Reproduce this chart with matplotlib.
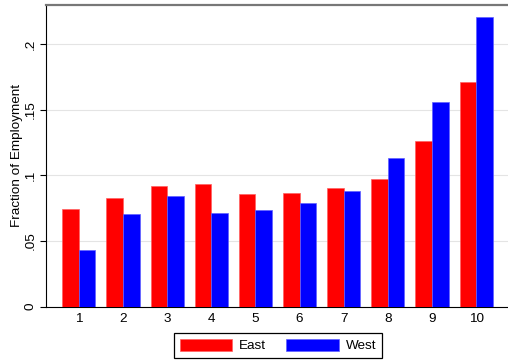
import numpy as np
from matplotlib import pyplot as plt

plt.rcParams['font.family'] = ['Liberation Sans', 'DejaVu Sans']

deciles = np.arange(1, 11)
east = [0.0745, 0.083, 0.092, 0.0936, 0.086, 0.0867, 0.0905, 0.0974, 0.1259, 0.1714]
west = [0.0432, 0.0707, 0.0844, 0.0715, 0.0738, 0.079, 0.0883, 0.1134, 0.1556, 0.2204]
yticks = [0, 0.05, 0.1, 0.15, 0.2]
ytick_labels = ['0', '.05', '.1', '.15', '.2']

fs = 9.7

fig = plt.figure(figsize=(5.08, 3.62), dpi=100)
ax = fig.add_axes([0.09, 0.1528, 0.91, 0.834])

w = 0.375
ax.bar(deciles - w / 2, east, width=w, color='#ff0000', edgecolor='#ff6060',
       linewidth=0.5, label='East', zorder=3)
ax.bar(deciles + w / 2, west, width=w, color='#0000ff', edgecolor='#6060ff',
       linewidth=0.5, label='West', zorder=3)

ax.set_xlim(0.25, 10.72)
ax.set_ylim(0, 0.23)
ax.set_xticks(deciles)
ax.set_yticks(yticks)
ax.set_yticklabels(ytick_labels, rotation=90, va='center')
ax.tick_params(axis='x', length=0, labelsize=fs, pad=4.5)
ax.tick_params(axis='y', length=4, width=0.8, labelsize=fs, pad=2.5)
ax.grid(axis='y', color='#e4e4e4', linewidth=0.8, zorder=0)
ax.set_ylabel('Fraction of Employment', fontsize=fs)
ax.yaxis.set_label_coords(-0.049, 0.5)

ax.spines['right'].set_visible(False)
ax.spines['top'].set_color('#777777')
ax.spines['top'].set_linewidth(1.6)
ax.spines['left'].set_color('black')
ax.spines['bottom'].set_color('black')

leg = fig.legend(loc='center', bbox_to_anchor=(0.547, 0.0456), ncol=2,
                 fontsize=fs, handlelength=3.9, handleheight=1.05,
                 handletextpad=0.5, columnspacing=1.5, fancybox=False,
                 edgecolor='black', framealpha=1, borderpad=0.45)
leg.get_frame().set_linewidth(0.9)

fig.savefig('out.png', dpi=100)
